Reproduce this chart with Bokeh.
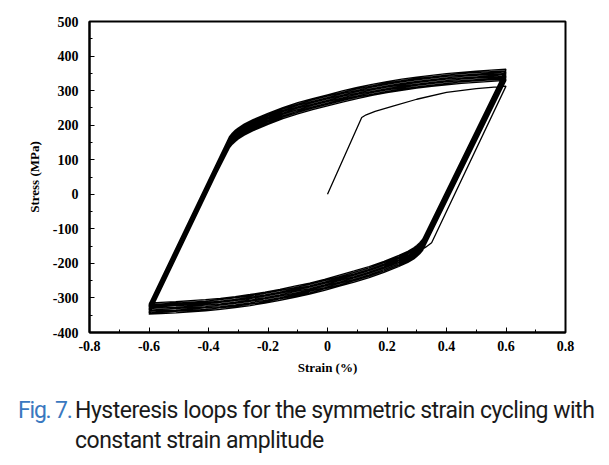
from bokeh.plotting import figure
from bokeh.models import Range1d, FixedTicker, Div, PrintfTickFormatter
from bokeh.layouts import column
from bokeh.embed import file_html
from bokeh.resources import INLINE

# ---------------- data ----------------
# first (monotonic) loading from the origin
init_strain = [0.0, 0.115, 0.13, 0.16, 0.22, 0.30, 0.40, 0.50, 0.60]
init_stress = [0, 222, 230, 240, 255, 275, 295, 306, 313]

# first unloading and first compressive branch
first_lower_strain = [0.60, 0.35, 0.33, 0.31, 0.29, 0.26, 0.20, 0.14, 0.09, 0.04, -0.01,
                      -0.06, -0.11, -0.16, -0.21, -0.26, -0.31, -0.36, -0.41, -0.46,
                      -0.51, -0.56, -0.60]
first_lower_stress = [313, -140, -153, -164, -173, -184, -203, -220, -233, -245, -256,
                      -267, -276, -284, -292, -299, -305, -310, -314, -317,
                      -320, -322, -324]

# upper (tensile) branch of the highest loop
up_strain = [-0.33, -0.32, -0.31, -0.30, -0.28, -0.25, -0.20, -0.15, -0.10, -0.05, 0.00,
             0.05, 0.10, 0.15, 0.20, 0.25, 0.30, 0.35, 0.40, 0.45, 0.50, 0.55, 0.60]
up_stress = [166, 177, 185, 192, 203, 216, 234, 251, 265, 277, 288,
             299, 309, 318, 326, 333, 339, 344, 349, 353, 356, 359, 362]

# lower (compressive) branch of the highest loop
lo_strain = [0.32, 0.31, 0.30, 0.29, 0.27, 0.24, 0.19, 0.14, 0.09, 0.04, -0.01,
             -0.06, -0.11, -0.16, -0.21, -0.26, -0.31, -0.36, -0.41, -0.46,
             -0.51, -0.56, -0.60]
lo_stress = [-130, -140, -148, -155, -165, -177, -194, -209, -222, -234, -246,
             -257, -266, -275, -283, -290, -296, -301, -305, -308,
             -311, -313, -315]

# stress shift of each following loop (width of the band of loops)
loop_shift = [-32, -28, -24, -20, -16, -12, -8, -4, 0]

x_ticks = [-0.8, -0.6, -0.4, -0.2, 0.0, 0.2, 0.4, 0.6, 0.8]
x_minor = [-0.7, -0.5, -0.3, -0.1, 0.1, 0.3, 0.5, 0.7]
y_ticks = [-400, -300, -200, -100, 0, 100, 200, 300, 400, 500]
y_minor = [-350, -250, -150, -50, 50, 150, 250, 350, 450]

# ---------------- build the continuous strain-stress path ----------------
xs = list(init_strain) + list(first_lower_strain)
ys = list(init_stress) + list(first_lower_stress)
for d in loop_shift:
    xs += up_strain
    ys += [s + d for s in up_stress]
    xs += lo_strain
    ys += [s + d for s in lo_stress]

# ---------------- figure ----------------
p = figure(width=609, height=388, output_backend="svg", toolbar_location=None,
           x_range=Range1d(-0.8, 0.8), y_range=Range1d(-400, 500),
           min_border_left=89, min_border_right=44, min_border_top=21,
           min_border_bottom=56)
p.grid.visible = False
p.outline_line_color = "black"
p.outline_line_width = 2
p.background_fill_color = "white"
p.border_fill_color = "white"

p.line(xs, ys, line_color="black", line_width=1.3)

for ax in (p.xaxis[0], p.yaxis[0]):
    ax.axis_line_width = 2
    ax.axis_line_color = "black"
    ax.major_tick_in = 5
    ax.major_tick_out = 0
    ax.minor_tick_in = 3
    ax.minor_tick_out = 0
    ax.major_tick_line_width = 1
    ax.minor_tick_line_width = 1
    ax.major_label_text_font = "Liberation Serif"
    ax.major_label_text_font_style = "bold"
    ax.major_label_text_font_size = "14px"
    ax.major_label_text_color = "black"
    ax.axis_label_text_font = "Liberation Serif"
    ax.axis_label_text_font_style = "bold"
    ax.axis_label_text_font_size = "13px"
    ax.axis_label_text_color = "black"

p.xaxis[0].ticker = FixedTicker(ticks=x_ticks, minor_ticks=x_minor)
p.xaxis[0].formatter = PrintfTickFormatter(format="%.1f")
p.xaxis[0].major_label_overrides = {0: "0"}
p.xaxis[0].major_label_standoff = 8
p.xaxis[0].axis_label = "Strain (%)"
p.xaxis[0].axis_label_standoff = 6

p.yaxis[0].ticker = FixedTicker(ticks=y_ticks, minor_ticks=y_minor)
p.yaxis[0].formatter = PrintfTickFormatter(format="%d")
p.yaxis[0].major_label_standoff = 11
p.yaxis[0].axis_label = "Stress (MPa)"
p.yaxis[0].axis_label_standoff = 8

caption = Div(
    text=(
        '<div style="display:flex;font-family:Roboto;font-size:23px;'
        'line-height:30px;color:#1a1a1a;letter-spacing:-0.5px;">'
        '<span style="color:#3a78c0;white-space:nowrap;width:57px;flex:none;'
        'letter-spacing:-1.2px;">Fig.&nbsp;7.</span>'
        '<span style="white-space:nowrap;">Hysteresis loops for the symmetric strain cycling with<br>'
        'constant strain amplitude</span></div>'
    ),
    width=590, margin=(8, 0, 0, 18),
)

layout = column(p, caption, spacing=0)
open("out.html", "w").write(file_html(layout, INLINE))
